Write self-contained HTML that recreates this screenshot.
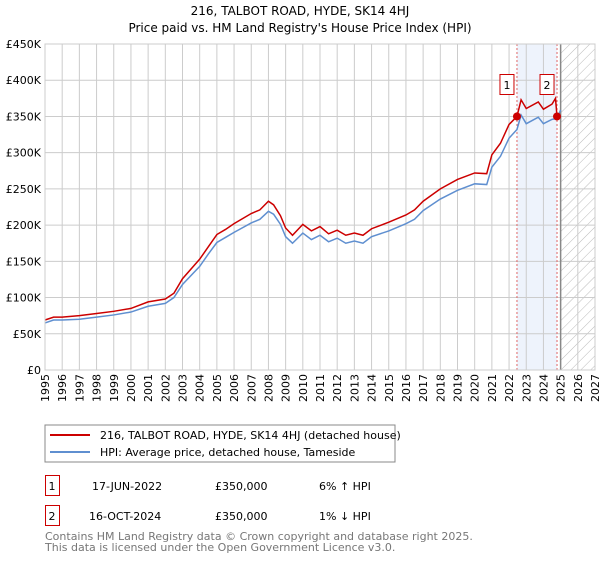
<!DOCTYPE html>
<html><head><meta charset="utf-8"><style>
body{margin:0;background:#fff;width:600px;height:560px;overflow:hidden;font-family:"DejaVu Sans","Liberation Sans",sans-serif}
svg text{font-family:"DejaVu Sans","Liberation Sans",sans-serif}
</style></head><body>
<svg id="chart" width="600" height="560" xmlns="http://www.w3.org/2000/svg">
<defs><pattern id="hatch" patternUnits="userSpaceOnUse" width="7" height="7" patternTransform="rotate(45)"><line x1="0" y1="0" x2="0" y2="7" stroke="#bbb" stroke-width="1"/></pattern></defs>
<text x="300" y="15" text-anchor="middle" font-size="12">216, TALBOT ROAD, HYDE, SK14 4HJ</text>
<text x="300" y="32" text-anchor="middle" font-size="12">Price paid vs. HM Land Registry's House Price Index (HPI)</text>
<g id="grid"></g><g id="marks"></g><g id="axes"></g>
<rect x="45" y="425" width="350" height="37" fill="#fff" stroke="#888"/>
<line x1="50" y1="435" x2="90" y2="435" stroke="#cc0000" stroke-width="2"/>
<text x="100" y="439" font-size="11">216, TALBOT ROAD, HYDE, SK14 4HJ (detached house)</text>
<line x1="50" y1="452" x2="90" y2="452" stroke="#5f8fd0" stroke-width="2"/>
<text x="100" y="456" font-size="11">HPI: Average price, detached house, Tameside</text>
<g font-size="11">
<rect x="45.5" y="475.5" width="14" height="20" fill="#fff" stroke="#cc0000"/><text x="52" y="490" text-anchor="middle">1</text>
<text x="92" y="490">17-JUN-2022</text><text x="215" y="490">£350,000</text><text x="319" y="490">6% ↑ HPI</text></g>
<g font-size="11">
<rect x="45.5" y="505.5" width="14" height="20" fill="#fff" stroke="#cc0000"/><text x="52" y="520" text-anchor="middle">2</text>
<text x="89" y="520">16-OCT-2024</text><text x="215" y="520">£350,000</text><text x="319" y="520">1% ↓ HPI</text></g>
<text x="45" y="540" font-size="11" fill="#777">Contains HM Land Registry data © Crown copyright and database right 2025.</text>
<text x="45" y="551" font-size="11" fill="#777">This data is licensed under the Open Government Licence v3.0.</text>
</svg>
<script>
const hpiYears=[1995,1995.5,1996,1997,1998,1999,2000,2001,2002,2002.5,2003,2004,2004.5,2005,2005.5,2006,2007,2007.5,2008,2008.3,2008.7,2009,2009.4,2010,2010.5,2011,2011.5,2012,2012.5,2013,2013.5,2014,2015,2016,2016.5,2017,2018,2019,2020,2020.7,2021,2021.5,2022,2022.46,2022.7,2023,2023.7,2024,2024.5,2024.79,2025];
const hpiValues=[65,69,69,70,73,76,80,88,92,100,118,143,160,176,183,190,203,208,219,215,201,184,175,189,180,186,177,182,175,178,175,184,192,202,208,220,236,248,257,256,280,295,320,332,352,340,349,340,346,347,359];
const priceYears=[1995,1995.5,1996,1997,1998,1999,2000,2001,2002,2002.5,2003,2004,2004.5,2005,2005.5,2006,2007,2007.5,2008,2008.3,2008.7,2009,2009.4,2010,2010.5,2011,2011.5,2012,2012.5,2013,2013.5,2014,2015,2016,2016.5,2017,2018,2019,2020,2020.7,2021,2021.5,2022,2022.46,2022.7,2023,2023.7,2024,2024.5,2024.7,2024.79];
const priceValues=[69,73,73,75,78,81,85,94,98,106,126,153,170,187,194,202,216,221,233,228,213,196,186,201,192,198,188,193,186,189,186,195,204,214,221,233,250,263,272,271,297,313,339,350,373,361,370,360,367,375,350];
const salesYears=[2022.46,2024.79];
const salesValues=[350,350];
const saleLabels=["1","2"];
const yTicks=[0,50,100,150,200,250,300,350,400,450];
const yTickLabels=["£0","£50K","£100K","£150K","£200K","£250K","£300K","£350K","£400K","£450K"];
const xTicks=[1995,1996,1997,1998,1999,2000,2001,2002,2003,2004,2005,2006,2007,2008,2009,2010,2011,2012,2013,2014,2015,2016,2017,2018,2019,2020,2021,2022,2023,2024,2025,2026,2027];

const NS="http://www.w3.org/2000/svg";
const X0=45,X1=595,Y0=370,Y1=44;
const sx=y=>X0+(y-1995)/(2027-1995)*(X1-X0);
const sy=v=>Y0-v/450*(Y0-Y1);
function mk(tag,attrs,parent){const e=document.createElementNS(NS,tag);for(const k in attrs)e.setAttribute(k,attrs[k]);parent.appendChild(e);return e;}
const grid=document.getElementById('grid'),marks=document.getElementById('marks'),axes=document.getElementById('axes');

const band=mk('rect',{x:sx(salesYears[0]),y:Y1,width:sx(salesYears[1])-sx(salesYears[0]),height:Y0-Y1,fill:'#eef3fc'},grid);


const hatch=mk('rect',{x:sx(2025),y:Y1,width:X1-sx(2025),height:Y0-Y1,fill:'url(#hatch)'},grid);



yTicks.forEach((t,i)=>{
  const l=mk('line',{x1:X0,x2:X1,y1:sy(t),y2:sy(t),stroke:'#ccc'},grid);
  
  
  const tx=mk('text',{x:X0-4,y:sy(t)+4,'text-anchor':'end','font-size':11},axes);
  tx.textContent=yTickLabels[i];
  
  
});
xTicks.forEach(t=>{
  const l=mk('line',{x1:sx(t),x2:sx(t),y1:Y1,y2:Y0,stroke:'#ccc'},grid);
  
  
  const tx=mk('text',{x:0,y:0,'text-anchor':'end','font-size':11,transform:`translate(${sx(t)+4},${Y0+4}) rotate(-90)`},axes);
  tx.textContent=t;
  
  
});
const nowLine=mk('line',{x1:sx(2025),x2:sx(2025),y1:Y1,y2:Y0,stroke:'#888','stroke-width':1.5},grid);



salesYears.forEach(y=>{
  const l=mk('line',{x1:sx(y),x2:sx(y),y1:Y1,y2:Y0,stroke:'#e06666','stroke-dasharray':'2,2'},marks);
  
  
});
const hp=mk('polyline',{points:hpiYears.map((y,i)=>sx(y)+','+sy(hpiValues[i])).join(' '),fill:'none',stroke:'#5f8fd0','stroke-width':1.5},marks);


const pp=mk('polyline',{points:priceYears.map((y,i)=>sx(y)+','+sy(priceValues[i])).join(' '),fill:'none',stroke:'#cc0000','stroke-width':1.5},marks);


salesYears.forEach((y,i)=>{
  const c=mk('circle',{cx:sx(y),cy:sy(salesValues[i]),r:4,fill:'#cc0000'},marks);
  
  
  const r=mk('rect',{x:sx(y)-17,y:74.5,width:14,height:20,fill:'#fff',stroke:'#cc0000'},marks);
  
  
  const t=mk('text',{x:sx(y)-10,y:89,'text-anchor':'middle','font-size':11},marks);
  t.textContent=saleLabels[i];
  
  
});
const frame=mk('rect',{x:X0,y:Y1,width:X1-X0,height:Y0-Y1,fill:'none',stroke:'#ccc'},axes);


</script>
</body></html>
